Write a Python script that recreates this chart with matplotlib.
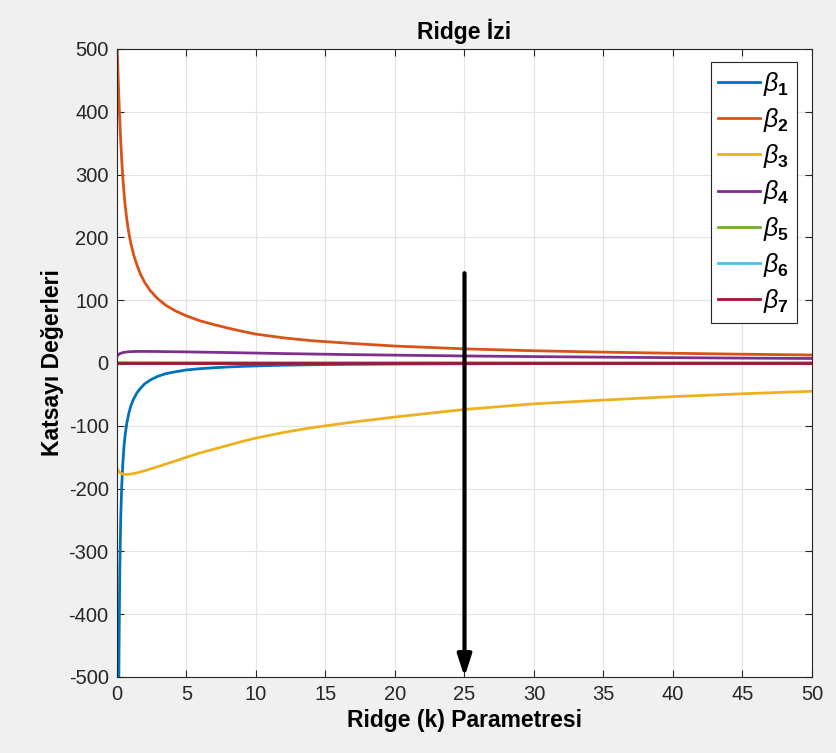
import numpy as np
import matplotlib
matplotlib.use('Agg')
import matplotlib.pyplot as plt

# Ridge parametresi (k) ve katsayı değerleri
k = [0, 0.03, 0.06, 0.1, 0.14, 0.2, 0.27, 0.34, 0.42, 0.5, 0.6, 0.72, 0.86, 1.0, 1.2, 1.45, 1.7, 2.0, 2.4,
     2.9, 3.5, 4.2, 5, 6, 7, 8, 9, 10, 12, 14, 17, 20, 25, 30, 35, 40, 45, 50]

beta1 = [np.nan, -2000, -1100, -640, -470, -330, -245, -195, -160, -133, -112, -94, -79, -68, -57, -47, -40, -33, -27,
         -21.5, -17, -14, -11, -9, -7.5, -6.3, -5.4, -4.6, -3.5, -2.8, -2.1, -1.6, -1.2, -0.9, -0.7, -0.6, -0.5, -0.4]
beta2 = [512, 490, 469, 443, 419, 386, 352, 323, 295, 272, 248, 226, 206, 190, 172, 155, 141, 128, 115,
         103, 92, 83, 75, 67, 61, 55.5, 50.5, 46, 40, 35.5, 31, 27, 22.5, 19.5, 17.3, 15.5, 14, 12.7]
beta3 = [-167, -168.5, -170, -171.5, -173, -174.5, -175.5, -176.3, -176.8, -177.2, -177.4, -177.4, -177.2, -176.8,
         -176, -174.8, -173.4, -171.5, -168.8, -165.3, -161, -156, -150, -143, -137, -131, -125, -119.5, -110.5,
         -103, -94, -86, -74, -65, -59, -53.5, -49, -45]
beta4 = [11, 11.8, 12.5, 13.3, 14, 14.8, 15.5, 16, 16.5, 16.9, 17.3, 17.6, 17.9, 18.1, 18.3, 18.4, 18.5, 18.5, 18.4,
         18.3, 18.1, 17.9, 17.7, 17.3, 17, 16.6, 16.2, 15.8, 15, 14.3, 13.3, 12.5, 11.2, 10.2, 9.3, 8.5, 7.8, 7.2]
beta5 = [0.8, 0.8, 0.8, 0.7, 0.7, 0.7, 0.7, 0.6, 0.6, 0.6, 0.6, 0.6, 0.6, 0.5, 0.5, 0.5, 0.5, 0.5, 0.5,
         0.5, 0.4, 0.4, 0.4, 0.4, 0.4, 0.4, 0.4, 0.3, 0.3, 0.3, 0.3, 0.3, 0.3, 0.2, 0.2, 0.2, 0.2, 0.2]
beta6 = [-0.8, -0.8, -0.8, -0.7, -0.7, -0.7, -0.7, -0.6, -0.6, -0.6, -0.6, -0.5, -0.5, -0.5, -0.5, -0.5, -0.5, -0.5,
         -0.4, -0.4, -0.4, -0.4, -0.3, -0.3, -0.3, -0.3, -0.3, -0.3, -0.2, -0.2, -0.2, -0.2, -0.2, -0.2, -0.1, -0.1,
         -0.1, -0.1]
beta7 = [0.5, 0.5, 0.5, 0.5, 0.5, 0.5, 0.5, 0.5, 0.5, 0.5, 0.5, 0.5, 0.5, 0.5, 0.5, 0.5, 0.5, 0.5, 0.5,
         0.5, 0.5, 0.5, 0.5, 0.5, 0.5, 0.5, 0.5, 0.5, 0.5, 0.5, 0.5, 0.5, 0.5, 0.5, 0.5, 0.5, 0.5, 0.5]

seriler = [beta1, beta2, beta3, beta4, beta5, beta6, beta7]
renkler = ['#0072BD', '#D95319', '#EDB120', '#7E2F8E', '#77AC30', '#4DBEEE', '#A2142F']
etiketler = [r'$\beta_{\mathbf{%d}}$' % (i + 1) for i in range(7)]

# Ok (seçilen k değeri)
ok_k = 25
ok_ust = 143
ok_alt = -500

plt.rcParams['font.family'] = ['Liberation Sans', 'DejaVu Sans']
plt.rcParams['axes.unicode_minus'] = False
plt.rcParams['mathtext.fontset'] = 'custom'
plt.rcParams['mathtext.it'] = 'Liberation Sans:italic'
plt.rcParams['mathtext.bf'] = 'Liberation Sans:bold'
plt.rcParams['mathtext.rm'] = 'Liberation Sans'

fig = plt.figure(figsize=(8.37, 7.53), dpi=100, facecolor='#f0f0f0')
ax = fig.add_axes([117 / 837, 1 - 677 / 753, (812 - 117) / 837, (677 - 49) / 753])

for y, c, lab in zip(seriler, renkler, etiketler):
    ax.plot(k, y, color=c, lw=2, label=lab)

ax.annotate('', xy=(ok_k, ok_alt), xytext=(ok_k, ok_ust),
            arrowprops=dict(arrowstyle='-|>,head_length=1.3,head_width=0.42',
                            color='black', lw=3, shrinkA=0, shrinkB=0))

ax.set_xlim(0, 50)
ax.set_ylim(-500, 500)
ax.set_xticks(np.arange(0, 51, 5))
ax.set_yticks(np.arange(-500, 501, 100))
ax.grid(True, color='#e3e3e3', lw=0.8)
ax.set_axisbelow(True)
ax.tick_params(direction='in', length=5, width=0.8, top=True, right=True,
               labelsize=14.5, colors='#262626', pad=6)
for s in ax.spines.values():
    s.set_color('#262626')
    s.set_linewidth(0.8)

ax.set_title('Ridge İzi', fontsize=16.5, fontweight='bold', pad=7)
ax.set_xlabel('Ridge (k) Parametresi', fontsize=16.5, fontweight='bold', labelpad=3)
ax.set_ylabel('Katsayı Değerleri', fontsize=16.5, fontweight='bold', labelpad=3)

leg = ax.legend(loc='upper right', bbox_to_anchor=(0.978, 0.979), fontsize=18,
                handlelength=1.65, handletextpad=0.12, labelspacing=0.33,
                borderaxespad=0, fancybox=False, framealpha=1, borderpad=0.3)
leg.get_frame().set_edgecolor('#262626')
leg.get_frame().set_linewidth(0.8)

plt.savefig('out.png', dpi=100, facecolor=fig.get_facecolor())
